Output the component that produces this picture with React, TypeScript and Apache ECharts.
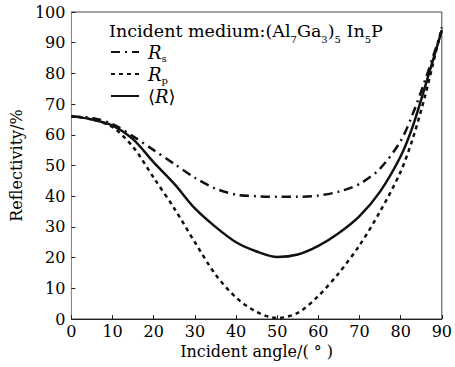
import React, { useEffect, useRef } from "react";
import * as echarts from "echarts";

const angles = [0, 5, 10, 15, 20, 25, 30, 35, 40, 45, 50, 55, 60, 65, 70, 75, 80, 83, 86, 88, 90];
const rsValues = [66, 65.5, 63.5, 59.5, 55, 50.5, 46, 42.5, 40.5, 40, 39.8, 39.8, 40.2, 41.5, 44, 49, 58, 67, 78, 86, 94];
const rpValues = [66, 65, 62.5, 56, 46, 36, 25, 14.5, 7, 2.3, 0.3, 2, 7.5, 15, 24, 35, 48, 59, 73, 84, 95];
const rAvgValues = [66, 65, 63, 58.5, 51, 44, 36, 30, 25, 22, 20.2, 21, 23.8, 28, 33.5, 41.5, 53, 63, 76, 85, 94];
const xTicks = [0, 10, 20, 30, 40, 50, 60, 70, 80, 90];
const yTicks = [0, 10, 20, 30, 40, 50, 60, 70, 80, 90, 100];

const FONT = "DejaVu Serif";

export default function App() {
  const ref = useRef<HTMLDivElement>(null);
  useEffect(() => {
    if (!ref.current) return;
    const chart = echarts.init(ref.current, null, { renderer: "svg" });
    const pairs = (vals: number[]) => angles.map((a, i) => [a, vals[i]]);
    const legendText: Record<string, string> = {
      Rs: "{i|R}{sub|s}",
      Rp: "{i|R}{sub|p}",
      R: "{n|⟨}{i|R}{n|⟩}",
    };
    chart.setOption({
      animation: false,
      backgroundColor: "#fff",
      textStyle: { fontFamily: FONT, color: "#000" },
      title: {
        left: 109,
        top: 18,
        padding: 0,
        text: "{m|Incident medium:(Al}{s|7}{m|Ga}{s|3}{m|)}{s|5}{m| In}{s|5}{m|P}",
        textStyle: {
          fontFamily: FONT,
          fontSize: 17.5,
          fontWeight: "normal",
          color: "#000",
          rich: {
            m: { fontFamily: FONT, fontSize: 17.5, lineHeight: 26, verticalAlign: "middle", color: "#000" },
            s: { fontFamily: FONT, fontSize: 10, lineHeight: 10, verticalAlign: "bottom", color: "#000" },
          },
        },
      },
      legend: {
        orient: "vertical",
        left: 110,
        top: 43,
        padding: 0,
        itemWidth: 28,
        itemHeight: 10,
        itemGap: 2,
        data: ["Rs", "Rp", "R"],
        itemStyle: { opacity: 0 },
        formatter: (name: string) => legendText[name],
        textStyle: {
          fontFamily: FONT,
          fontSize: 18,
          color: "#000",
          padding: [0, 0, 0, 4],
          rich: {
            i: { fontFamily: FONT, fontStyle: "italic", fontSize: 18, lineHeight: 22, verticalAlign: "middle", color: "#000" },
            n: { fontFamily: FONT, fontSize: 18, lineHeight: 22, verticalAlign: "middle", color: "#000" },
            sub: { fontFamily: FONT, fontSize: 10, lineHeight: 10, verticalAlign: "bottom", color: "#000" },
          },
        },
      },
      grid: {
        left: 69,
        right: 9,
        top: 12,
        bottom: 48,
        show: true,
        borderColor: "#444",
        borderWidth: 1,
      },
      xAxis: {
        type: "value",
        min: 0,
        max: 90,
        interval: 10,
        name: "Incident angle/( ° )",
        nameLocation: "middle",
        nameGap: 24,
        nameTextStyle: { fontFamily: FONT, fontSize: 16, color: "#000" },
        axisLine: { show: true, lineStyle: { color: "#222", width: 1 } },
        axisTick: { show: true, inside: true, length: 4, lineStyle: { color: "#222" } },
        axisLabel: {
          fontFamily: FONT,
          fontSize: 16,
          color: "#000",
          margin: 4,
          formatter: (v: number) => (xTicks.includes(v) ? String(v) : ""),
        },
        splitLine: { show: false },
      },
      yAxis: {
        type: "value",
        min: 0,
        max: 100,
        interval: 10,
        name: "Reflectivity/%",
        nameLocation: "middle",
        nameGap: 38,
        nameTextStyle: { fontFamily: FONT, fontSize: 16, color: "#000" },
        axisLine: { show: true, lineStyle: { color: "#888", width: 1 } },
        axisTick: { show: true, inside: true, length: 4, lineStyle: { color: "#222" } },
        axisLabel: {
          fontFamily: FONT,
          fontSize: 16,
          color: "#000",
          margin: 6,
          formatter: (v: number) => (yTicks.includes(v) ? String(v) : ""),
        },
        splitLine: { show: false },
      },
      series: [
        {
          name: "Rs",
          type: "line",
          smooth: 0.3,
          symbol: "none",
          data: pairs(rsValues),
          lineStyle: { color: "#111", width: 2.5, type: [9, 5, 2, 5] },
          itemStyle: { color: "#111" },
        },
        {
          name: "Rp",
          type: "line",
          smooth: 0.3,
          symbol: "none",
          data: pairs(rpValues),
          lineStyle: { color: "#111", width: 2.5, type: [4, 4] },
          itemStyle: { color: "#111" },
        },
        {
          name: "R",
          type: "line",
          smooth: 0.3,
          symbol: "none",
          data: pairs(rAvgValues),
          lineStyle: { color: "#111", width: 2.5, type: "solid" },
          itemStyle: { color: "#111" },
        },
      ],
    });
    return () => chart.dispose();
  }, []);
  return <div ref={ref} style={{ width: 455, height: 367, position: "absolute", left: 0, top: 0 }} />;
}
